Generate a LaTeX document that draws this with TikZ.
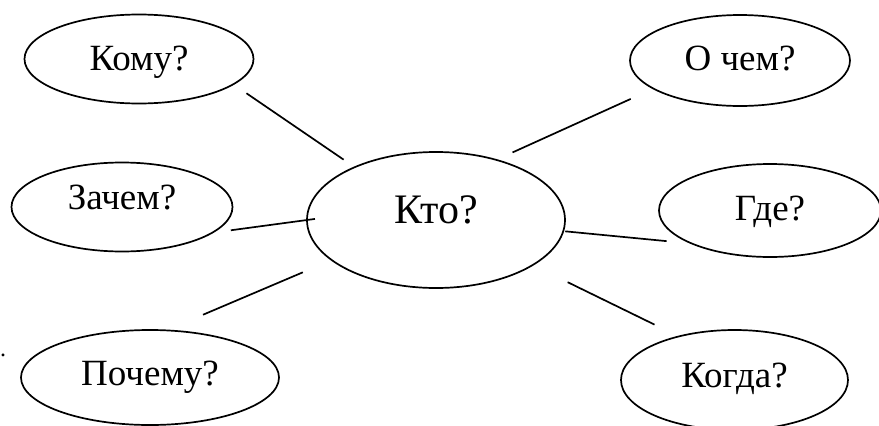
\documentclass[tikz,border=0pt]{standalone}
\usepackage{fontspec}
\setmainfont{Liberation Serif}
\usetikzlibrary{shapes.geometric}

\begin{document}
\begin{tikzpicture}[x=1pt,y=-1pt,
  oval/.style={draw,ellipse,line width=1.7pt,inner sep=0pt,outer sep=0pt,
    font=\fontsize{37}{44}\selectfont,text height=24.5pt},
  link/.style={line width=1.7pt}]
  \useasboundingbox (0,0) rectangle (879,426);
  \node[oval,minimum width=229,minimum height=89,text depth=2pt] (komu) at (139,59) {Кому?};
  \node[oval,minimum width=220,minimum height=91,text depth=4pt] (ochem) at (740,60.5) {О чем?};
  \node[oval,minimum width=221,minimum height=89,text depth=20pt] (zachem) at (122,207) {Зачем?};
  \node[oval,minimum width=258,minimum height=136,text depth=22pt,
    font=\fontsize{42}{48}\selectfont,text height=28pt] (kto) at (436,220) {Кто?};
  \node[oval,minimum width=222,minimum height=93,text depth=4pt] (gde) at (770,210.5) {Где?};
  \node[oval,minimum width=258,minimum height=95,text depth=8pt] (pochemu) at (150,377.5) {Почему?};
  \node[oval,minimum width=227,minimum height=100,text depth=10pt] (kogda) at (734.5,380) {Когда?};
  \node[font=\fontsize{24}{28}\selectfont,anchor=base west,inner sep=0pt] (dot) at (0,356) {.};
  \draw[link,shorten <=16pt,shorten >=13.4pt] (komu.-15.3) -- (kto.147.4);
  \draw[link,shorten <=18pt,shorten >=25pt] (kto.45.9) -- (ochem.-162.9);
  \draw[link,shorten <=19pt,shorten >=-8pt] (zachem.-16.4) -- (kto.180.8);
  \draw[link,shorten <=2pt,shorten >=25.6pt] (kto.-5.7) -- (gde.203.8);
  \draw[link,shorten <=40pt,shorten >=31.4pt] (pochemu.71.2) -- (kto.201.7);
  \draw[link,shorten <=39pt,shorten >=27pt] (kto.-25.6) -- (kogda.142.9);
\end{tikzpicture}
\end{document}
